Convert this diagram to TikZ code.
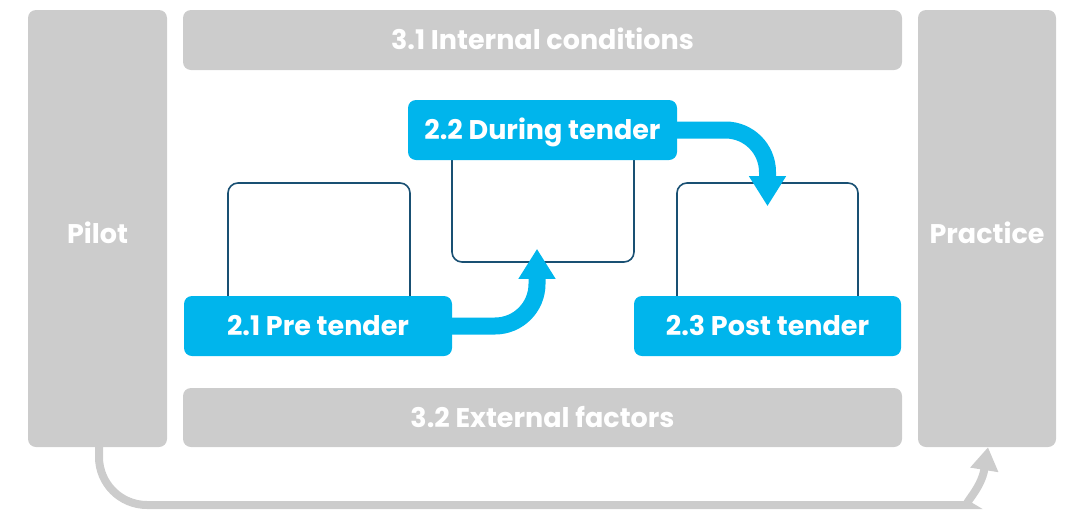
\documentclass[tikz,border=0pt]{standalone}
\usepackage{xcolor}
\usepackage{fontspec}
\setmainfont{Poppins}
\usetikzlibrary{arrows.meta}

\definecolor{panelgray}{RGB}{204,204,204}
\definecolor{tenderblue}{RGB}{0,181,236}
\definecolor{framenavy}{RGB}{25,80,115}

\tikzset{
  panel/.style={fill=panelgray, rounded corners=8pt, inner sep=0pt, text=white,
    text height=19pt, text depth=0pt, font=\bfseries\fontsize{27}{31}\selectfont},
  stagebox/.style={draw=framenavy, line width=1.6pt, rounded corners=10pt, inner sep=0pt},
  stagelabel/.style={fill=tenderblue, rounded corners=8pt, inner sep=0pt, text=white,
    text height=19pt, text depth=0pt,
    minimum width=268pt, minimum height=60pt, font=\bfseries\fontsize{27}{31}\selectfont},
  flowarrow/.style={tenderblue, line width=17pt, -{Triangle[width=35pt,length=30pt]}},
  looparrow/.style={panelgray, line width=8pt, -{Triangle[width=27pt,length=23pt]}}
}

\begin{document}
\begin{tikzpicture}[x=1pt,y=-1pt]
      \useasboundingbox (0,0) rectangle (1072,512);

      % Side and band panels (grey)
      \node[panel, text height=30pt, minimum width=139pt, minimum height=437pt] (pilot) at (97.5,228.5) {Pilot};
      \node[panel, text height=30pt, minimum width=138pt, minimum height=437pt] (practice) at (987,228.5) {Practice};
      \node[panel, minimum width=719pt, minimum height=60pt] (internal) at (542.5,40) {3.1 Internal conditions};
      \node[panel, minimum width=719pt, minimum height=59pt] (external) at (542.5,417.5) {3.2 External factors};

      % Outline boxes behind the stage labels
      \node[stagebox, minimum width=182pt, minimum height=127pt] (prebox) at (319,246.5) {};
      \node[stagebox, minimum width=182pt, minimum height=125pt] (duringbox) at (543,199.5) {};
      \node[stagebox, minimum width=181pt, minimum height=127pt] (postbox) at (767.5,246.5) {};

      % Stage labels (blue)
      \node[stagelabel] (pre) at (318,326) {2.1 Pre tender};
      \node[stagelabel, minimum width=269pt] (during) at (542.5,130) {2.2 During tender};
      \node[stagelabel, minimum width=267pt] (post) at (767.5,326) {2.3 Post tender};

      % Flow between the stages
      \draw[flowarrow, rounded corners=42pt] (pre.east) -| ([xshift=-6pt,yshift=14pt]duringbox.south);
      \draw[flowarrow, rounded corners=42pt] (during.east) -| ([yshift=-24pt]postbox.north);

      % From pilot to practice
      \coordinate (bend) at (920,505);
      \draw[looparrow] ([xshift=1.5pt]pilot.south) [rounded corners=48pt] |- (bend) [sharp corners]
        .. controls (962,505) and (981,490) .. ([xshift=1pt]practice.south);
\end{tikzpicture}
\end{document}
